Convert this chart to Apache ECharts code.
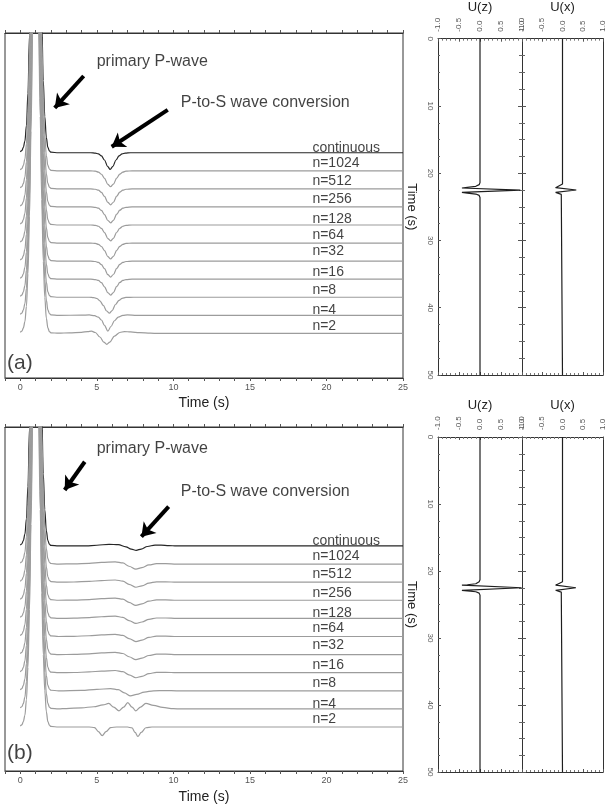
<!DOCTYPE html>
<html>
<head>
<meta charset="utf-8">
<title>P-to-S conversion</title>
<script src="https://cdn.jsdelivr.net/npm/echarts@6/dist/echarts.min.js"></script>
<style>
  html, body { margin: 0; padding: 0; background: #fff; }
  #chart { width: 607px; height: 808px; }
</style>
</head>
<body>
<div id="chart"></div>
<script>
// ---------- data ----------
const traceNames = ['continuous', 'n=1024', 'n=512', 'n=256', 'n=128', 'n=64', 'n=32', 'n=16', 'n=8', 'n=4', 'n=2'];
const timeTicks = [0, 5, 10, 15, 20, 25];

// primary P pulse, same on every trace: [time (s), amplitude in trace spacings]
const pWave = [[0, 0.05], [0.1, 0.12], [0.2, 0.3], [0.3, 0.65], [0.4, 1.5], [0.5, 3.3], [0.6, 6.5],
  [0.7, 11.2], [0.8, 16.5], [0.9, 20.5], [1.0, 21.8], [1.1, 20.6], [1.2, 16.8], [1.3, 12.0],
  [1.4, 7.4], [1.5, 4.0], [1.6, 2.0], [1.7, 0.85], [1.8, 0.3], [1.9, 0.1], [2.0, 0.03]];

// panel (a): the converted wave after the P pulse
const convA_cont = [[2.5, 0], [4.6, 0], [4.9, -0.02], [5.1, -0.06], [5.3, -0.17], [5.5, -0.4], [5.7, -0.75],
  [5.87, -0.92], [6.05, -0.75], [6.25, -0.4], [6.45, -0.17], [6.65, -0.06], [6.85, -0.02], [7.2, 0], [25, 0]];
const convA_fine = [[2.5, 0], [4.6, 0], [4.9, -0.02], [5.1, -0.07], [5.3, -0.19], [5.5, -0.42], [5.72, -0.75],
  [5.9, -0.88], [6.08, -0.74], [6.3, -0.4], [6.5, -0.18], [6.7, -0.07], [6.9, -0.02], [7.3, 0], [25, 0]];
const convA_n8 = [[2.5, 0], [4.5, 0], [4.8, -0.02], [5.0, -0.07], [5.2, -0.2], [5.42, -0.45], [5.64, -0.76],
  [5.82, -0.88], [6.0, -0.74], [6.22, -0.4], [6.45, -0.17], [6.65, -0.06], [6.9, -0.01], [7.4, 0], [25, 0]];
const convA_n4 = [[2.5, 0], [4.0, 0.01], [4.5, 0.02], [4.85, -0.02], [5.1, -0.1], [5.3, -0.26], [5.5, -0.56],
  [5.72, -0.88], [5.92, -0.62], [6.15, -0.3], [6.4, -0.1], [6.7, 0], [7.0, 0.02], [7.6, 0], [25, 0]];
const convA_n2 = [[2.5, 0.01], [3.2, 0.03], [4.0, 0.06], [4.4, 0.1], [4.65, 0.12], [4.9, 0.05], [5.2, -0.2],
  [5.45, -0.48], [5.65, -0.61], [5.85, -0.48], [6.15, -0.15], [6.5, 0.05], [6.8, 0.1], [7.2, 0.08],
  [7.8, 0.04], [8.5, 0.01], [9.0, 0], [25, 0]];

// panel (b)
const convB_cont = [[2.5, 0], [4.3, 0], [5.0, 0.04], [5.8, 0.09], [6.4, 0.07], [6.9, -0.05], [7.25, -0.18],
  [7.57, -0.24], [7.9, -0.17], [8.3, -0.03], [8.8, 0.05], [9.2, 0.05], [9.7, 0.02], [10.2, 0], [25, 0]];
const convB_fine = [[2.5, 0], [3.5, 0.01], [4.5, 0.04], [5.3, 0.09], [6.2, 0.12], [6.7, 0.06], [7.1, -0.12],
  [7.55, -0.28], [7.95, -0.2], [8.4, -0.05], [8.9, 0.02], [9.5, 0.02], [10.2, 0], [25, 0]];
const convB_n8 = [[2.5, 0], [4.0, 0.02], [5.0, 0.08], [5.9, 0.12], [6.4, 0.06], [6.8, -0.12], [7.2, -0.28],
  [7.6, -0.2], [8.1, -0.07], [8.7, 0], [9.5, 0.01], [10.2, 0], [25, 0]];
const convB_n4 = [[2.5, 0], [3.0, 0.02], [4.0, 0.06], [4.8, 0.12], [5.4, 0.22], [5.78, 0.3], [6.1, 0.1],
  [6.45, -0.11], [6.75, 0.1], [7.02, 0.35], [7.3, 0.1], [7.55, -0.11], [7.85, 0.1], [8.2, 0.3],
  [8.7, 0.2], [9.3, 0.08], [10.0, 0.01], [10.5, 0], [25, 0]];
const convB_n2 = [[2.5, 0], [4.5, 0], [4.85, -0.03], [5.1, -0.25], [5.35, -0.48], [5.6, -0.25], [5.9, -0.03],
  [6.3, 0], [7.0, 0], [7.3, -0.05], [7.5, -0.3], [7.68, -0.52], [7.9, -0.3], [8.2, -0.04], [8.6, 0], [25, 0]];

const tailsA = [convA_cont, convA_fine, convA_fine, convA_fine, convA_fine, convA_fine, convA_fine,
  convA_fine, convA_n8, convA_n4, convA_n2];
const tailsB = [convB_cont, convB_fine, convB_fine, convB_fine, convB_fine, convB_fine, convB_fine,
  convB_fine, convB_n8, convB_n4, convB_n2];

// right panels: [amplitude, time (s)]
const uzA = [[0, 0], [0, 21.4], [-0.02, 21.7], [-0.1, 21.95], [-0.3, 22.1], [-0.43, 22.2], [0.96, 22.5],
  [-0.43, 22.85], [-0.3, 22.95], [-0.1, 23.1], [-0.02, 23.3], [0, 23.6], [0, 50]];
const uxA = [[0, 0], [0, 21.6], [-0.03, 21.85], [-0.17, 22.15], [0.34, 22.5], [-0.17, 22.85],
  [-0.03, 23.15], [0, 23.4], [0, 50]];
const uzB = [[0, 0], [0, 21.3], [-0.02, 21.6], [-0.1, 21.9], [-0.3, 22.05], [-0.43, 22.12], [0.99, 22.5],
  [-0.43, 22.88], [-0.3, 22.98], [-0.1, 23.1], [-0.02, 23.3], [0, 23.6], [0, 50]];
const uxB = [[0, 0], [0, 21.6], [-0.03, 21.85], [-0.17, 22.12], [0.33, 22.5], [-0.17, 22.88],
  [-0.03, 23.15], [0, 23.4], [0, 50]];

// ---------- layout ----------
const FONT = 'Liberation Sans, Arial, sans-serif';
const labelY = [0.24, -0.57, -1.56, -2.58, -3.69, -4.56, -5.46, -6.59, -7.6, -8.71, -9.58];
const labelT = 19.08;
const panels = [
  { top: 33, height: 345, ymin: -12.47, ymax: 6.63, tails: tailsA, tag: '(a)', tagY: -11.63,
    pText: [4.99, 5.02], sText: [10.48, 2.76],
    arrows: [[[4.14, 4.25], [2.25, 2.48]], [[9.63, 2.37], [5.97, 0.33]]], nameGap: 18 },
  { top: 427, height: 344, ymin: -12.43, ymax: 6.57, tails: tailsB, tag: '(b)', tagY: -11.46,
    pText: [4.99, 5.39], sText: [10.48, 2.99],
    arrows: [[[4.21, 4.65], [2.9, 3.09]], [[9.69, 2.17], [7.91, 0.51]]], nameGap: 19 }
];
const rightPanels = [
  { top: 38, height: 337, uz: uzA, ux: uxA },
  { top: 437, height: 335, uz: uzB, ux: uxB }
];

const allSeconds = [];
for (let s = -1; s <= 25; s++) allSeconds.push(s);

const grid = [], xAxis = [], yAxis = [], series = [];
const LINE = { show: true, onZero: false, lineStyle: { color: '#333', width: 1 } };

panels.forEach(function (p) {
  const g = grid.length;
  grid.push({ left: 5, top: p.top, width: 398, height: p.height, show: true,
    borderColor: '#333', borderWidth: 1, backgroundColor: 'transparent' });
  const xi = xAxis.length;
  xAxis.push({
    gridIndex: g, type: 'value', min: -1, max: 25, position: 'bottom',
    axisLine: LINE,
    axisTick: { show: true, customValues: allSeconds, length: 3, lineStyle: { color: '#555' } },
    axisLabel: { customValues: timeTicks, fontSize: 9, color: '#555', margin: 5, fontFamily: FONT },
    splitLine: { show: false },
    name: 'Time (s)', nameLocation: 'middle', nameGap: p.nameGap,
    nameTextStyle: { fontSize: 14, color: '#222', fontFamily: FONT }
  });
  xAxis.push({
    gridIndex: g, type: 'value', min: -1, max: 25, position: 'top',
    axisLine: LINE,
    axisTick: { show: true, customValues: allSeconds, length: 3, lineStyle: { color: '#555' } },
    axisLabel: { show: false }, splitLine: { show: false }
  });
  const yi = yAxis.length;
  yAxis.push({ gridIndex: g, type: 'value', min: p.ymin, max: p.ymax, show: false,
    axisLine: { show: false, onZero: false }, splitLine: { show: false } });

  // traces: continuous underneath so the gray pulses cover its steep flanks
  for (let k = 0; k < traceNames.length; k++) {
    const data = pWave.concat(p.tails[k]).map(function (d) { return [d[0], d[1] - k]; });
    series.push({
      type: 'line', name: traceNames[k], xAxisIndex: xi, yAxisIndex: yi, data: data,
      showSymbol: false, smooth: 0.35, smoothMonotone: 'x', clip: true, silent: true,
      lineStyle: { color: k === 0 ? '#262626' : '#9c9c9c', width: 1.2 }, z: 2
    });
  }

  // trace labels
  series.push({
    type: 'scatter', xAxisIndex: xi, yAxisIndex: yi, symbolSize: 0, silent: true, z: 6,
    data: traceNames.map(function (n, k) { return { value: [labelT, labelY[k]], name: n }; }),
    label: { show: true, position: 'right', distance: 0, formatter: '{b}', fontSize: 14,
      color: '#111', fontFamily: FONT }
  });
  // annotations + arrows
  series.push({
    type: 'scatter', xAxisIndex: xi, yAxisIndex: yi, symbolSize: 0, silent: true, z: 6,
    data: [{ value: p.pText, name: 'primary P-wave' }, { value: p.sText, name: 'P-to-S wave conversion' }],
    label: { show: true, position: 'right', distance: 0, formatter: '{b}', fontSize: 16,
      color: '#111', fontFamily: FONT },
    markLine: {
      silent: true, animation: false, symbol: ['none', 'arrow'], symbolSize: 13,
      label: { show: false },
      lineStyle: { color: '#000', width: 4, type: 'solid' },
      data: p.arrows.map(function (a) { return [{ coord: a[0] }, { coord: a[1] }]; })
    }
  });
  series.push({
    type: 'scatter', xAxisIndex: xi, yAxisIndex: yi, symbolSize: 0, silent: true, z: 6,
    data: [{ value: [-0.87, p.tagY], name: p.tag }],
    label: { show: true, position: 'right', distance: 0, formatter: '{b}', fontSize: 21,
      color: '#111', fontFamily: FONT }
  });
});

function rightAxes(g, title, withLabels) {
  const xi = xAxis.length;
  xAxis.push({
    gridIndex: g, type: 'value', min: -1, max: 1, interval: 0.5, position: 'top',
    axisLine: LINE,
    axisTick: { show: true, inside: true, length: 3, lineStyle: { color: '#555' } },
    minorTick: { show: true, splitNumber: 5, length: 2, lineStyle: { color: '#777' } },
    axisLabel: { rotate: -90, fontSize: 8, color: '#555', margin: 7, fontFamily: FONT,
      formatter: function (v) { return v.toFixed(1); } },
    splitLine: { show: false },
    name: title, nameLocation: 'middle', nameGap: 20,
    nameTextStyle: { fontSize: 13, color: '#222', fontFamily: FONT }
  });
  xAxis.push({
    gridIndex: g, type: 'value', min: -1, max: 1, interval: 0.5, position: 'bottom',
    axisLine: LINE,
    axisTick: { show: true, inside: true, length: 3, lineStyle: { color: '#555' } },
    minorTick: { show: true, splitNumber: 5, length: 2, lineStyle: { color: '#777' } },
    axisLabel: { show: false }, splitLine: { show: false }
  });
  const yi = yAxis.length;
  yAxis.push({
    gridIndex: g, type: 'value', min: 0, max: 50, interval: 10, inverse: true, position: 'left',
    axisLine: LINE,
    axisTick: { show: true, inside: withLabels, length: withLabels ? 3 : 4, lineStyle: { color: '#555' } },
    minorTick: { show: true, splitNumber: 4, length: withLabels ? 2 : 3, lineStyle: { color: '#666' } },
    axisLabel: { show: withLabels, rotate: -90, fontSize: 8, color: '#555', margin: 4, fontFamily: FONT },
    splitLine: { show: false },
    name: withLabels ? 'Time (s)' : '', nameLocation: 'middle', nameRotate: -90, nameGap: 20,
    nameTextStyle: { fontSize: 13, color: '#222', fontFamily: FONT }
  });
  yAxis.push({
    gridIndex: g, type: 'value', min: 0, max: 50, interval: 10, inverse: true, position: 'right',
    axisLine: LINE,
    axisTick: { show: withLabels, inside: false, length: 4, lineStyle: { color: '#555' } },
    minorTick: { show: withLabels, splitNumber: 4, length: 3, lineStyle: { color: '#666' } },
    axisLabel: { show: false }, splitLine: { show: false }
  });
  return [xi, yi];
}

rightPanels.forEach(function (r) {
  const gz = grid.length;
  grid.push({ left: 438, top: r.top, width: 84, height: r.height });
  const az = rightAxes(gz, 'U(z)', true);
  const gx = grid.length;
  grid.push({ left: 522, top: r.top, width: 84, height: r.height });
  const ax = rightAxes(gx, 'U(x)', false);
  [[az, r.uz], [ax, r.ux]].forEach(function (pair) {
    series.push({
      type: 'line', xAxisIndex: pair[0][0], yAxisIndex: pair[0][1], data: pair[1],
      showSymbol: false, silent: true, clip: true,
      lineStyle: { color: '#1e1e1e', width: 1.2 }
    });
  });
});

const chart = echarts.init(document.getElementById('chart'), null, { renderer: 'canvas' });
chart.setOption({
  animation: false,
  backgroundColor: '#fff',
  textStyle: { fontFamily: FONT },
  grid: grid, xAxis: xAxis, yAxis: yAxis, series: series
});
window.addEventListener('resize', function () { chart && chart.resize(); });
</script>
</body>
</html>
